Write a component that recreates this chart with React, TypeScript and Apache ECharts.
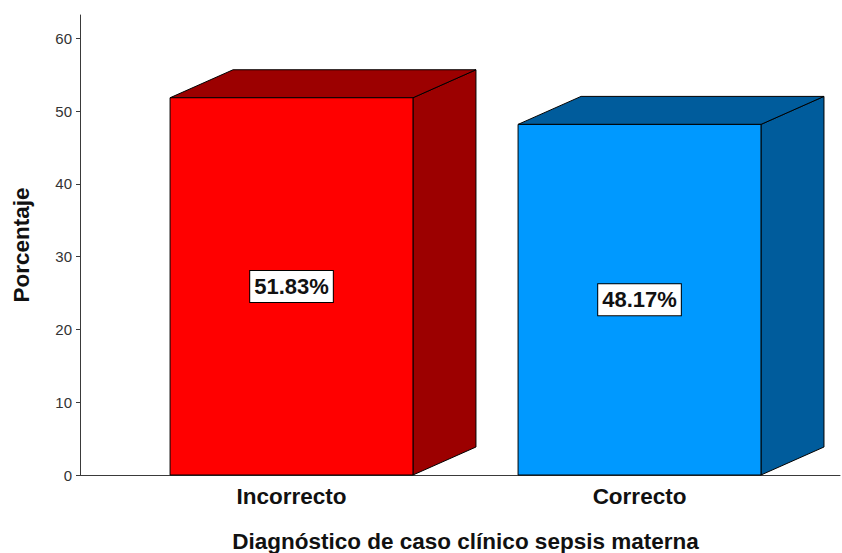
import React, { useEffect, useRef } from "react";
import * as echarts from "echarts";

const categories = ["Incorrecto", "Correcto"];
const percentages = [51.83, 48.17];
const frontColors = ["#ff0000", "#0099ff"];
const sideColors = ["#9c0000", "#005c9c"];
const yTickValues = [0, 10, 20, 30, 40, 50, 60];

const FONT = "'Liberation Sans', Arial, Helvetica, sans-serif";
const AXIS_COLOR = "#3a3a3a";
const BAR_FRACTION = 0.698;
const DEPTH_X = 63;
const DEPTH_Y = 28;

export default function App() {
  const ref = useRef<HTMLDivElement>(null);
  useEffect(() => {
    if (!ref.current) return;
    const chart = echarts.init(ref.current, undefined, { renderer: "svg" });
    const data = categories.map((c, i) => [i, percentages[i]]);
    chart.setOption({
      animation: false,
      backgroundColor: "#ffffff",
      grid: {
        left: 80,
        right: 2,
        top: 15,
        bottom: 78,
        containLabel: false,
        outerBoundsMode: "none",
      },
      xAxis: {
        type: "value",
        min: -0.6078,
        max: 1.5761,
        splitLine: { show: false },
        axisLine: { show: true, onZero: false, lineStyle: { color: AXIS_COLOR, width: 1 } },
        axisTick: { show: false },
        axisLabel: {
          customValues: [0, 1],
          formatter: (v: number) => categories[Math.round(v)] ?? "",
          fontFamily: FONT,
          fontSize: 22.5,
          fontWeight: "bold",
          color: "#111",
          margin: 10,
        },
        name: "Diagnóstico de caso clínico sepsis materna",
        nameLocation: "middle",
        nameGap: 55,
        nameTextStyle: {
          fontFamily: FONT,
          fontSize: 22.5,
          fontWeight: "bold",
          color: "#111",
          padding: [0, 0, 0, 11],
        },
      },
      yAxis: {
        type: "value",
        min: 0,
        max: 63.2,
        splitLine: { show: false },
        axisLine: { show: true, onZero: false, lineStyle: { color: AXIS_COLOR, width: 1 } },
        axisTick: {
          show: true,
          length: 4,
          customValues: yTickValues,
          lineStyle: { color: AXIS_COLOR },
        },
        axisLabel: {
          customValues: yTickValues,
          fontFamily: FONT,
          fontSize: 15,
          color: "#333",
          margin: 8,
        },
        name: "Porcentaje",
        nameLocation: "middle",
        nameGap: 47,
        nameTextStyle: {
          fontFamily: FONT,
          fontSize: 22.5,
          fontWeight: "bold",
          color: "#111",
        },
      },
      series: [
        {
          type: "custom",
          data,
          renderItem: (params: any, api: any) => {
            const idx = api.value(0);
            const v = api.value(1);
            const [cx, yTop] = api.coord([idx, v]);
            const [, y0] = api.coord([idx, 0]);
            const w = api.size([1, 0])[0] * BAR_FRACTION;
            const x0 = cx - w / 2;
            const x1 = cx + w / 2;
            const front = frontColors[params.dataIndex];
            const side = sideColors[params.dataIndex];
            return {
              type: "group",
              children: [
                {
                  type: "polygon",
                  shape: {
                    points: [
                      [x1, y0],
                      [x1 + DEPTH_X, y0 - DEPTH_Y],
                      [x1 + DEPTH_X, yTop - DEPTH_Y],
                      [x1, yTop],
                    ],
                  },
                  style: { fill: side, stroke: "#000", lineWidth: 1 },
                },
                {
                  type: "polygon",
                  shape: {
                    points: [
                      [x0, yTop],
                      [x0 + DEPTH_X, yTop - DEPTH_Y],
                      [x1 + DEPTH_X, yTop - DEPTH_Y],
                      [x1, yTop],
                    ],
                  },
                  style: { fill: side, stroke: "#000", lineWidth: 1 },
                },
                {
                  type: "rect",
                  shape: { x: x0, y: yTop, width: w, height: y0 - yTop },
                  style: { fill: front, stroke: "#000", lineWidth: 1 },
                },
                {
                  type: "text",
                  x: cx,
                  y: (yTop + y0) / 2,
                  style: {
                    text: v.toFixed(2) + "%",
                    align: "center",
                    verticalAlign: "middle",
                    fontFamily: FONT,
                    fontSize: 22,
                    fontWeight: "bold",
                    fill: "#111",
                    backgroundColor: "#ffffff",
                    borderColor: "#000",
                    borderWidth: 1,
                    padding: [5, 4, 4, 4],
                  },
                },
              ],
            };
          },
        },
      ],
    });
    return () => chart.dispose();
  }, []);
  return <div ref={ref} style={{ width: 842, height: 553, position: "absolute", left: 0, top: 0 }} />;
}
